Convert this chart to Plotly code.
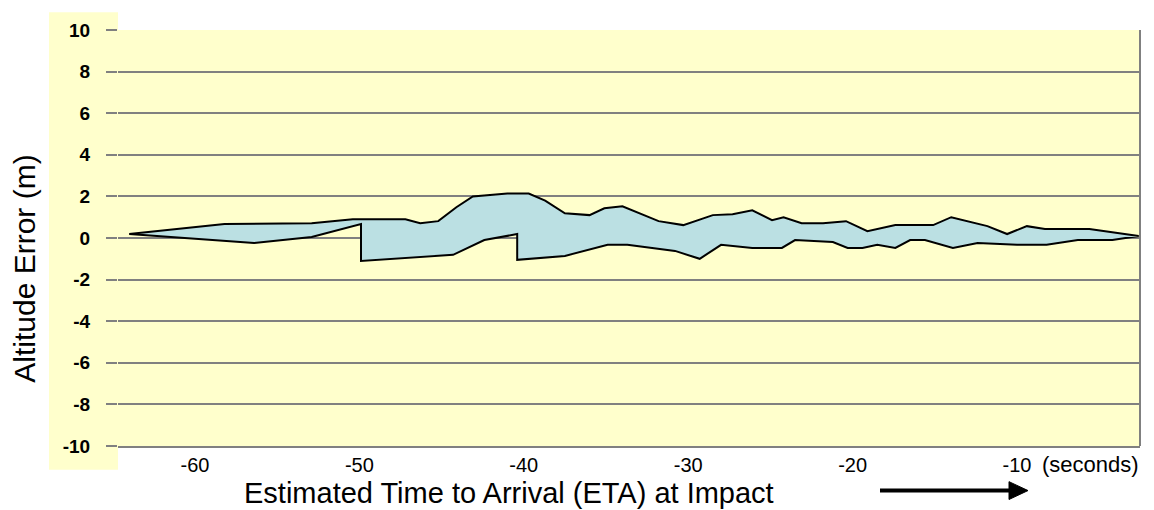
import plotly.graph_objects as go

# ---- data ----
upper_t = [-64.0, -58.2, -52.9, -50.4, -47.2, -46.3, -45.2, -44.1, -43.1, -41.0, -39.7, -38.7,
           -37.5, -36.0, -35.1, -34.0, -31.8, -30.3, -28.5, -27.3, -26.1, -24.9, -24.2, -23.1,
           -21.8, -20.4, -19.1, -17.4, -15.1, -14.0, -11.8, -10.6, -9.4, -8.3, -5.6, -2.6]
upper_v = [0.19, 0.67, 0.71, 0.90, 0.90, 0.71, 0.81, 1.48, 2.00, 2.14, 2.14, 1.80,
           1.19, 1.10, 1.43, 1.52, 0.81, 0.62, 1.10, 1.14, 1.33, 0.86, 1.00, 0.71,
           0.71, 0.81, 0.33, 0.62, 0.62, 1.00, 0.57, 0.19, 0.57, 0.43, 0.43, 0.10]

lower_t = [-64.0, -56.4, -52.9, -49.9, -49.9, -44.3, -42.4, -40.4, -40.4, -37.5, -34.9, -33.7,
           -30.8, -29.3, -28.0, -26.1, -24.3, -23.5, -21.2, -20.3, -19.4, -18.5, -17.4, -16.5,
           -15.6, -13.9, -12.4, -10.0, -8.2, -6.3, -4.2, -2.6]
lower_v = [0.19, -0.24, 0.05, 0.67, -1.10, -0.81, -0.10, 0.19, -1.05, -0.86, -0.33, -0.33,
           -0.62, -1.00, -0.33, -0.48, -0.48, -0.10, -0.19, -0.48, -0.48, -0.33, -0.48, -0.10,
           -0.10, -0.48, -0.24, -0.33, -0.33, -0.10, -0.10, 0.10]

x_ticks = [-60, -50, -40, -30, -20, -10]
x_tick_labels = ["-60", "-50", "-40", "-30", "-20", "-10"]
y_ticks = [10, 8, 6, 4, 2, 0, -2, -4, -6, -8, -10]
y_tick_labels = [str(v) for v in y_ticks]

x_title = "Estimated Time to Arrival (ETA) at Impact"
y_title = "Altitude Error (m)"
unit_label = "(seconds)"

# ---- layout geometry (window pixels; the page body adds an 8 px margin) ----
OFF = 8
W, H = 1154 - OFF, 510 - OFF
L, R, T, B = 118, 1140, 26, 446
FONT = "Arial, Liberation Sans, sans-serif"


def px(x):
    return (x - L) / (R - L)


def py(y):
    return (B - y) / (B - T)


band_x = upper_t + lower_t[::-1]
band_y = upper_v + lower_v[::-1]

fig = go.Figure()
fig.add_trace(go.Scatter(
    x=band_x, y=band_y, mode="lines", fill="toself",
    fillcolor="#BBE0E3", line=dict(color="black", width=2),
    hoverinfo="skip", showlegend=False,
))

shapes = [
    # yellow background behind the y tick labels
    dict(type="rect", xref="paper", yref="paper", x0=px(49), x1=px(118), y0=py(470), y1=py(8),
         fillcolor="#FFFFCC", line=dict(width=0), layer="below"),
    # right border of the plot
    dict(type="line", xref="paper", yref="paper", x0=1, x1=1, y0=0, y1=1,
         line=dict(color="#808080", width=2)),
    # arrow shaft
    dict(type="line", xref="paper", yref="paper", x0=px(880), x1=px(1012), y0=py(491), y1=py(491),
         line=dict(color="black", width=4)),
    # arrow head
    dict(type="path", xref="paper", yref="paper",
         path=f"M {px(1009)} {py(482)} L {px(1028)} {py(491)} L {px(1009)} {py(500)} Z",
         fillcolor="black", line=dict(color="black", width=1)),
]

annotations = [
    dict(text=x_title, xref="paper", yref="paper", x=px(509), y=py(493),
         xanchor="center", yanchor="middle", showarrow=False,
         font=dict(family=FONT, size=29, color="black")),
    dict(text=y_title, xref="paper", yref="paper", x=px(25), y=py(267),
         xanchor="center", yanchor="middle", showarrow=False, textangle=-90,
         font=dict(family=FONT, size=30, color="black")),
    dict(text=unit_label, xref="paper", yref="paper", x=px(1040), y=py(465),
         xanchor="left", yanchor="middle", showarrow=False,
         font=dict(family=FONT, size=22, color="black")),
]

fig.update_layout(
    width=W, height=H,
    margin=dict(l=L - OFF, r=W - (R - OFF), t=T - OFF, b=H - (B - OFF), pad=0),
    paper_bgcolor="white", plot_bgcolor="#FFFFCC",
    shapes=shapes, annotations=annotations,
    xaxis=dict(range=[-64.68, -2.52], tickvals=x_ticks, ticktext=x_tick_labels,
               showgrid=False, zeroline=False, showline=True, linecolor="#808080", linewidth=2,
               ticks="", tickfont=dict(family=FONT, size=20, color="black"),
               ticklabelstandoff=0, fixedrange=True),
    yaxis=dict(range=[-10, 10], tickvals=y_ticks, ticktext=y_tick_labels,
               showgrid=True, gridcolor="#808080", gridwidth=2, zeroline=False,
               showline=False, ticks="outside", ticklen=11, tickwidth=2, tickcolor="#808080",
               tickfont=dict(family=FONT, size=19, color="black", weight="bold"),
               ticklabelstandoff=12, fixedrange=True),
)

fig.write_html("out.html")
